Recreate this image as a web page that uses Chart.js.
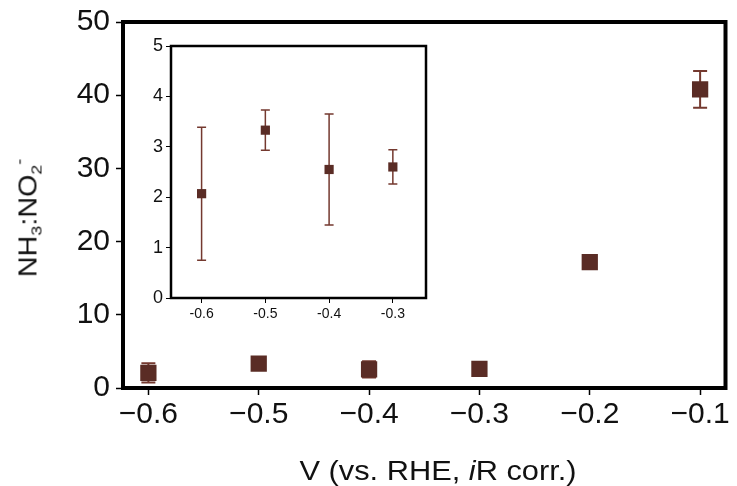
<!DOCTYPE html>
<html>
<head>
<meta charset="utf-8">
<script src="https://cdn.jsdelivr.net/npm/chart.js@4"></script>
<style>
  body { margin: 0; background: #fff; }
  #wrap { position: relative; width: 737px; height: 486px; font-family: 'Liberation Sans', Arial, sans-serif; color: #111; }
  #main { position: absolute; left: 0; top: 0; }
  #inset { position: absolute; left: 140px; top: 35px; }
  .ytitle { position: absolute; left: 28px; top: 218px; transform: translate(-50%, -50%) rotate(-90deg) scaleX(1.15); font-size: 25px; white-space: nowrap; }
  .xtitle { position: absolute; left: 438px; top: 471px; transform: translate(-50%, -50%) scaleX(1.1); font-size: 28px; white-space: nowrap; }
  sub { font-size: 0.62em; vertical-align: -0.35em; }
  sup { font-size: 0.62em; vertical-align: 0.75em; }
</style>
</head>
<body>
<div id="wrap">
  <canvas id="main" width="737" height="486"></canvas>
  <canvas id="inset" width="295" height="300"></canvas>
  <div class="ytitle">NH<sub>3</sub>:NO<sub>2</sub><sup>-</sup></div>
  <div class="xtitle">V (vs. RHE, <i>i</i>R corr.)</div>
</div>
<script>
// Potentials (V vs RHE) and NH3:NO2- ratio with error
const potentials = [-0.6, -0.5, -0.4, -0.3, -0.2, -0.1];
const ratio = [2.07, 3.33, 2.55, 2.60, 17.2, 40.8];
const ratioErr = [1.32, 0.40, 1.10, 0.34, 0.5, 2.5];

// Inset shows the first four points
const insetPotentials = [-0.6, -0.5, -0.4, -0.3];
const insetRatio = [2.07, 3.33, 2.55, 2.60];
const insetErr = [1.32, 0.40, 1.10, 0.34];

// Tick labels
const mainXTicks = [-0.6, -0.5, -0.4, -0.3, -0.2, -0.1];
const mainYTicks = [0, 10, 20, 30, 40, 50];
const insetXTicks = [-0.6, -0.5, -0.4, -0.3];
const insetYTicks = [0, 1, 2, 3, 4, 5];

const FONT = "'Liberation Sans', Arial, sans-serif";
const markerColor = '#5a2c25';
const barColor = '#74392f';

// draws vertical error bars with caps, behind the markers
const errorBars = {
  id: 'errorBars',
  beforeDatasetsDraw(chart, args, opts) {
    const ctx = chart.ctx;
    const xs = chart.scales.x, ys = chart.scales.y;
    ctx.save();
    ctx.strokeStyle = barColor;
    ctx.lineWidth = opts.width;
    opts.xv.forEach((xv, i) => {
      const x = xs.getPixelForValue(xv);
      const y1 = ys.getPixelForValue(opts.yv[i] + opts.err[i]);
      const y2 = ys.getPixelForValue(opts.yv[i] - opts.err[i]);
      ctx.beginPath();
      ctx.moveTo(x, y1); ctx.lineTo(x, y2);
      ctx.moveTo(x - opts.cap, y1); ctx.lineTo(x + opts.cap, y1);
      ctx.moveTo(x - opts.cap, y2); ctx.lineTo(x + opts.cap, y2);
      ctx.stroke();
    });
    ctx.restore();
  }
};

// black box round the plot area
const frame = {
  id: 'frame',
  beforeDraw(chart) {
    const ctx = chart.ctx;
    ctx.save();
    ctx.fillStyle = '#fff';
    ctx.fillRect(0, 0, chart.width, chart.height);
    ctx.restore();
  },
  afterDraw(chart, args, opts) {
    const a = chart.chartArea, ctx = chart.ctx;
    ctx.save();
    ctx.strokeStyle = '#000';
    ctx.lineWidth = opts.width;
    ctx.strokeRect(a.left, a.top, a.right - a.left, a.bottom - a.top);
    ctx.restore();
  }
};

function fmtMinus(v) {
  return v.toFixed(1).replace('-', '\u2212');
}

function points(xs, ys) {
  return xs.map((x, i) => ({ x: x, y: ys[i] }));
}

// Main chart
new Chart(document.getElementById('main'), {
  type: 'scatter',
  data: {
    datasets: [{
      data: points(potentials, ratio),
      pointStyle: 'rect',
      pointRadius: 11.5,
      backgroundColor: markerColor,
      borderColor: markerColor,
      borderWidth: 0
    }]
  },
  options: {
    responsive: false,
    animation: false,
    layout: { padding: { top: 22, right: 4, left: 0, bottom: 0 } },
    plugins: {
      legend: { display: false },
      tooltip: { enabled: false },
      errorBars: { xv: potentials, yv: ratio, err: ratioErr, cap: 7, width: 2 },
      frame: { width: 4 }
    },
    scales: {
      x: {
        type: 'linear', min: -0.623, max: -0.077,
        afterBuildTicks: s => { s.ticks = mainXTicks.map(v => ({ value: v })); },
        afterFit: s => { s.height = 98; s.paddingLeft = 0; s.paddingRight = 0; },
        grid: { drawOnChartArea: false, drawTicks: true, tickLength: 7, tickColor: '#000', tickWidth: 1.5 },
        border: { display: false },
        ticks: { font: { family: FONT, size: 30 }, color: '#111', padding: 2, maxRotation: 0, callback: v => fmtMinus(v) }
      },
      y: {
        min: 0, max: 50,
        afterBuildTicks: s => { s.ticks = mainYTicks.map(v => ({ value: v })); },
        afterFit: s => { s.width = 123; s.paddingTop = 0; s.paddingBottom = 0; },
        grid: { drawOnChartArea: false, drawTicks: true, tickLength: 7, tickColor: '#000', tickWidth: 1.5 },
        border: { display: false },
        ticks: { font: { family: FONT, size: 30 }, color: '#111', padding: 6 }
      }
    }
  },
  plugins: [frame, errorBars]
});

// Inset chart
new Chart(document.getElementById('inset'), {
  type: 'scatter',
  data: {
    datasets: [{
      data: points(insetPotentials, insetRatio),
      pointStyle: 'rect',
      pointRadius: 6.5,
      backgroundColor: markerColor,
      borderColor: markerColor,
      borderWidth: 0
    }]
  },
  options: {
    responsive: false,
    animation: false,
    layout: { padding: { top: 11, right: 9, left: 0, bottom: 0 } },
    plugins: {
      legend: { display: false },
      tooltip: { enabled: false },
      errorBars: { xv: insetPotentials, yv: insetRatio, err: insetErr, cap: 4.5, width: 1.5 },
      frame: { width: 2.5 }
    },
    scales: {
      x: {
        type: 'linear', min: -0.648, max: -0.248,
        afterBuildTicks: s => { s.ticks = insetXTicks.map(v => ({ value: v })); },
        afterFit: s => { s.height = 37; s.paddingLeft = 0; s.paddingRight = 0; },
        grid: { drawOnChartArea: false, drawTicks: true, tickLength: 5, tickColor: '#000', tickWidth: 1 },
        border: { display: false },
        ticks: { font: { family: FONT, size: 14 }, color: '#111', padding: 3, maxRotation: 0, callback: v => v.toFixed(1) }
      },
      y: {
        min: 0, max: 5,
        afterBuildTicks: s => { s.ticks = insetYTicks.map(v => ({ value: v })); },
        afterFit: s => { s.width = 31; s.paddingTop = 0; s.paddingBottom = 0; },
        grid: { drawOnChartArea: false, drawTicks: true, tickLength: 5, tickColor: '#000', tickWidth: 1 },
        border: { display: false },
        ticks: { font: { family: FONT, size: 18 }, color: '#111', padding: 3 }
      }
    }
  },
  plugins: [frame, errorBars]
});
</script>
</body>
</html>
